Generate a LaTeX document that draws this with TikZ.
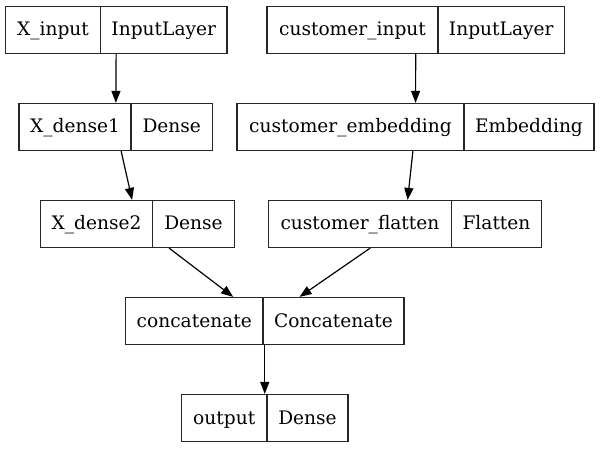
\documentclass[tikz,border=0pt]{standalone}
\usepackage{fontspec}
\setmainfont{DejaVu Serif}
\usetikzlibrary{arrows.meta}
\tikzset{
  box/.style={draw=black!85, line width=1.2pt, inner sep=0pt},
  lbl/.style={font=\fontsize{18.6}{22}\selectfont, inner sep=0pt, anchor=base},
  edge/.style={draw=black, line width=1.2pt, -{Triangle[length=12pt,width=9pt]}}
}
% \rec{name}{x1}{x2}{xdiv}{ytop}{left}{right}
\newcommand{\rec}[7]{%
  \pgfmathsetmacro{\rw}{#3-#2}%
  \pgfmathsetmacro{\rcx}{(#2+#3)/2}%
  \pgfmathsetmacro{\rcy}{#5+23.5}%
  \pgfmathsetmacro{\rby}{#5+29.5}%
  \pgfmathsetmacro{\rlx}{(#2+#4)/2}%
  \pgfmathsetmacro{\rrx}{(#4+#3)/2}%
  \node[box, minimum width=\rw pt, minimum height=47pt] (#1) at (\rcx,\rcy) {};
  \draw[black!85, line width=1.2pt] (#4,#5) -- (#4,#5+47);
  \node[lbl] (#1-l) at (\rlx,\rby) {#6};
  \node[lbl] (#1-r) at (\rrx,\rby) {#7};
}
\begin{document}
\begin{tikzpicture}[x=1pt,y=-1pt]
\useasboundingbox[fill=white] (0,0) rectangle (600,449);
\rec{xin}{5.5}{227}{100.5}{6.5}{X\_input}{InputLayer}
\rec{cin}{267}{564.5}{438}{6.5}{customer\_input}{InputLayer}
\rec{xd1}{19}{212.5}{131}{103.5}{X\_dense1}{Dense}
\rec{cemb}{237}{594}{464}{103.5}{customer\_embedding}{Embedding}
\rec{xd2}{40.5}{234.5}{152.5}{200.5}{X\_dense2}{Dense}
\rec{cfl}{268.5}{541.5}{451.5}{200.5}{customer\_flatten}{Flatten}
\rec{cat}{125.5}{404}{263}{297.5}{concatenate}{Concatenate}
\rec{out}{181.5}{348}{267}{394.5}{output}{Dense}
\draw[edge] (xin) -- (xd1);
\draw[edge] (cin) -- (cemb);
\draw[edge] (xd1) -- (xd2);
\draw[edge] (cemb) -- (cfl);
\draw[edge] (xd2) -- (cat);
\draw[edge] (cfl) -- (cat);
\draw[edge] (cat) -- (out);
\end{tikzpicture}
\end{document}
